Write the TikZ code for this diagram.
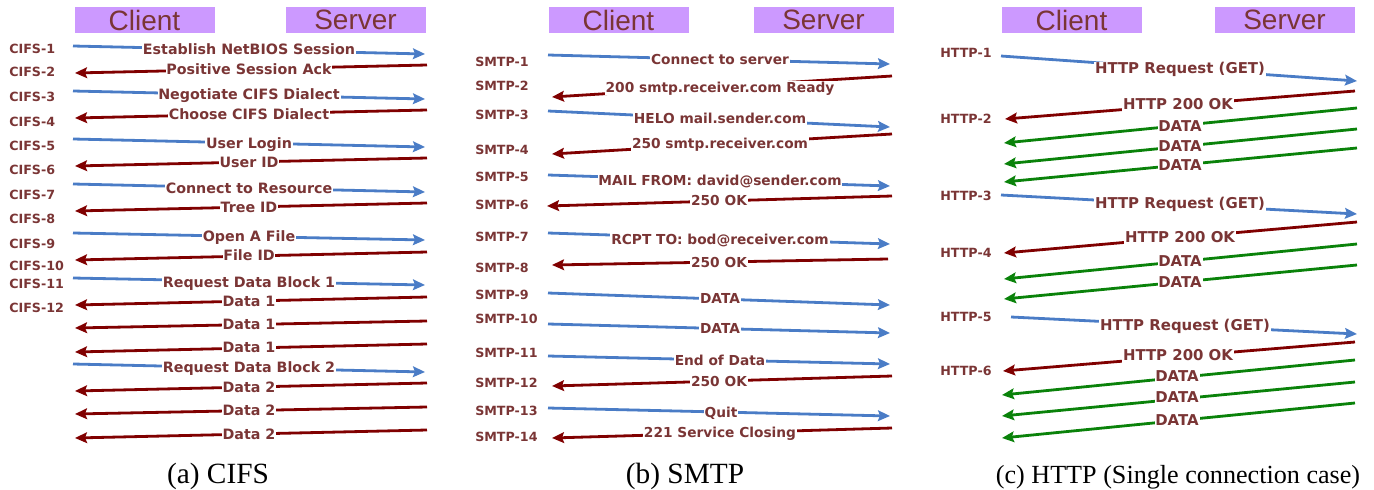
\documentclass[tikz,border=0pt]{standalone}
\usepackage{fontspec}
\setmainfont{Liberation Serif}
\newfontfamily\lblfam{DejaVu Sans}
\newfontfamily\hdrfam{Liberation Sans}
\usetikzlibrary{arrows.meta}

\definecolor{txt}{HTML}{7A3535}
\definecolor{reqblue}{HTML}{4A7CC6}
\definecolor{rspred}{HTML}{800000}
\definecolor{datgreen}{HTML}{0A820A}
\definecolor{lav}{HTML}{CC99FF}

% size of the message labels, set per panel
\newcommand\lblsz{10.7}

\tikzset{
  msgline/.style={line width=2.1pt, -{Stealth[length=9pt,width=8pt,inset=1.5pt]}},
  req/.style={msgline, draw=reqblue},
  rsp/.style={msgline, draw=rspred},
  dat/.style={msgline, draw=datgreen},
  lbl/.style={fill=white, inner sep=0.6pt, text=txt,
    font=\lblfam\bfseries\fontsize{\lblsz}{12}\selectfont,
    text height=0.73em, text depth=0.2em, yshift=-1.1pt},
  steptag/.style={anchor=west, inner sep=0pt, text=txt,
    font=\lblfam\bfseries\fontsize{9.5}{10}\selectfont,
    text height=0.73em, text depth=0pt},
  hdr/.style={fill=lav, text=txt, font=\hdrfam\fontsize{21}{22}\selectfont,
    minimum width=105pt, minimum height=20pt, inner sep=0pt},
  subcap/.style={anchor=base, font=\fontsize{22}{24}\selectfont}
}

% message arrow: name, style, start, end, label position, label text
\newcommand\msgarrow[6]{%
  \coordinate (#1s) at (#3);
  \coordinate (#1e) at (#4);
  \draw[#2] (#1s) -- (#1e);
  \node[lbl] (#1l) at (#5) {#6};
}

\begin{document}
\begin{tikzpicture}[x=0.75pt,y=-0.75pt]
\useasboundingbox (0,0) rectangle (1374,489);

% ---------------- (a) CIFS ----------------
\renewcommand\lblsz{10.7}
\node[hdr] (cifsC) at (144.5,20) {Client};
\node[hdr] (cifsS) at (355.5,20) {Server};

\node[steptag] (ct1)  at (9,49)  {CIFS-1};
\node[steptag] (ct2)  at (9,72)  {CIFS-2};
\node[steptag] (ct3)  at (9,97)  {CIFS-3};
\node[steptag] (ct4)  at (9,122) {CIFS-4};
\node[steptag] (ct5)  at (9,146) {CIFS-5};
\node[steptag] (ct6)  at (9,170) {CIFS-6};
\node[steptag] (ct7)  at (9,195) {CIFS-7};
\node[steptag] (ct8)  at (9,219) {CIFS-8};
\node[steptag] (ct9)  at (9,244) {CIFS-9};
\node[steptag] (ct10) at (9,266) {CIFS-10};
\node[steptag] (ct11) at (9,284) {CIFS-11};
\node[steptag] (ct12) at (9,308) {CIFS-12};

\msgarrow{c1}{req}{73,46}{425,54}{249,49}{Establish NetBIOS Session}
\msgarrow{c2}{rsp}{427,65}{75,73}{249,69}{Positive Session Ack}
\msgarrow{c3}{req}{73,91}{425,99}{249,94}{Negotiate CIFS Dialect}
\msgarrow{c4}{rsp}{427,110}{75,118}{249,114}{Choose CIFS Dialect}
\msgarrow{c5}{req}{73,139}{425,147}{249,143}{User Login}
\msgarrow{c6}{rsp}{427,158}{75,166}{249,162}{User ID}
\msgarrow{c7}{req}{73,184}{425,192}{249,188}{Connect to Resource}
\msgarrow{c8}{rsp}{427,203}{75,211}{249,207}{Tree ID}
\msgarrow{c9}{req}{73,233}{425,240}{249,236}{Open A File}
\msgarrow{c10}{rsp}{427,252}{75,260}{249,255}{File ID}
\msgarrow{c11}{req}{73,278}{425,285}{249,282}{Request Data Block 1}
\msgarrow{c12}{rsp}{427,297}{75,305}{249,301}{Data 1}
\msgarrow{c13}{rsp}{427,321}{75,328}{249,324}{Data 1}
\msgarrow{c14}{rsp}{427,344}{75,352}{249,347}{Data 1}
\msgarrow{c15}{req}{73,364}{425,372}{249,367}{Request Data Block 2}
\msgarrow{c16}{rsp}{427,383}{75,391}{249,387}{Data 2}
\msgarrow{c17}{rsp}{427,407}{75,414}{249,410}{Data 2}
\msgarrow{c18}{rsp}{427,430}{75,438}{249,434}{Data 2}

\node[subcap] (capA) at (218,483) {(a) CIFS};

% ---------------- (b) SMTP ----------------
\renewcommand\lblsz{10.3}
\node[hdr] (smtpC) at (618.5,20) {Client};
\node[hdr] (smtpS) at (823.5,20) {Server};

\node[steptag] (st1)  at (475,62)  {SMTP-1};
\node[steptag] (st2)  at (475,86)  {SMTP-2};
\node[steptag] (st3)  at (475,115) {SMTP-3};
\node[steptag] (st4)  at (475,150) {SMTP-4};
\node[steptag] (st5)  at (475,177) {SMTP-5};
\node[steptag] (st6)  at (475,205) {SMTP-6};
\node[steptag] (st7)  at (475,237) {SMTP-7};
\node[steptag] (st8)  at (475,268) {SMTP-8};
\node[steptag] (st9)  at (475,295) {SMTP-9};
\node[steptag] (st10) at (475,319) {SMTP-10};
\node[steptag] (st11) at (475,353) {SMTP-11};
\node[steptag] (st12) at (475,383) {SMTP-12};
\node[steptag] (st13) at (475,411) {SMTP-13};
\node[steptag] (st14) at (475,437) {SMTP-14};

\msgarrow{s1}{req}{548,55}{890,64}{720,59}{Connect to server}
\msgarrow{s2}{rsp}{892,76}{552,97}{720,87}{200 smtp.receiver.com Ready}
\msgarrow{s3}{req}{548,111}{890,127}{720,118}{HELO mail.sender.com}
\msgarrow{s4}{rsp}{892,134}{552,154}{720,143}{250 smtp.receiver.com}
\msgarrow{s5}{req}{548,175}{890,186}{720,180}{MAIL FROM: david@sender.com}
\msgarrow{s6}{rsp}{892,196}{547,206}{719,200}{250 OK}
\msgarrow{s7}{req}{548,233}{890,244}{720,239}{RCPT TO: bod@receiver.com}
\msgarrow{s8}{rsp}{888,259}{552,265}{719,262}{250 OK}
\msgarrow{s9}{req}{548,293}{890,305}{720,298}{DATA}
\msgarrow{s10}{req}{548,324}{890,333}{720,328}{DATA}
\msgarrow{s11}{req}{548,356}{890,364}{720,360}{End of Data}
\msgarrow{s12}{rsp}{892,376}{552,386}{719,381}{250 OK}
\msgarrow{s13}{req}{548,408}{890,416}{721,412}{Quit}
\msgarrow{s14}{rsp}{892,428}{552,438}{720,432}{221 Service Closing}

\node[subcap] (capB) at (685,483) {(b) SMTP};

% ---------------- (c) HTTP ----------------
\renewcommand\lblsz{11.2}
\node[hdr] (httpC) at (1071.5,20) {Client};
\node[hdr] (httpS) at (1284.5,20) {Server};

\node[steptag] (ht1) at (940,53)  {HTTP-1};
\node[steptag] (ht2) at (940,119) {HTTP-2};
\node[steptag] (ht3) at (940,196) {HTTP-3};
\node[steptag] (ht4) at (940,253) {HTTP-4};
\node[steptag] (ht5) at (940,317) {HTTP-5};
\node[steptag] (ht6) at (940,371) {HTTP-6};

\msgarrow{h1}{req}{1001,56}{1357,81}{1180,68}{HTTP Request (GET)}
\msgarrow{h2}{rsp}{1355,91}{1005,119}{1178,104}{HTTP 200 OK}
\msgarrow{h3}{dat}{1357,108}{1004,143}{1180,126}{DATA}
\msgarrow{h4}{dat}{1357,129}{1004,164}{1180,146}{DATA}
\msgarrow{h5}{dat}{1357,148}{1004,182}{1180,165}{DATA}
\msgarrow{h6}{req}{1001,195}{1357,214}{1180,203}{HTTP Request (GET)}
\msgarrow{h7}{rsp}{1357,222}{1004,253}{1180,237}{HTTP 200 OK}
\msgarrow{h8}{dat}{1357,244}{1004,279}{1180,261}{DATA}
\msgarrow{h9}{dat}{1357,265}{1004,299}{1180,282}{DATA}
\msgarrow{h10}{req}{1011,317}{1357,334}{1185,325}{HTTP Request (GET)}
\msgarrow{h11}{rsp}{1355,342}{1003,371}{1178,355}{HTTP 200 OK}
\msgarrow{h12}{dat}{1355,360}{1002,395}{1177,376}{DATA}
\msgarrow{h13}{dat}{1355,382}{1002,416}{1177,397}{DATA}
\msgarrow{h14}{dat}{1355,403}{1002,438}{1177,420}{DATA}

\node[subcap, font=\fontsize{19.6}{22}\selectfont] (capC) at (1178,483) {(c) HTTP (Single connection case)};
\end{tikzpicture}
\end{document}
